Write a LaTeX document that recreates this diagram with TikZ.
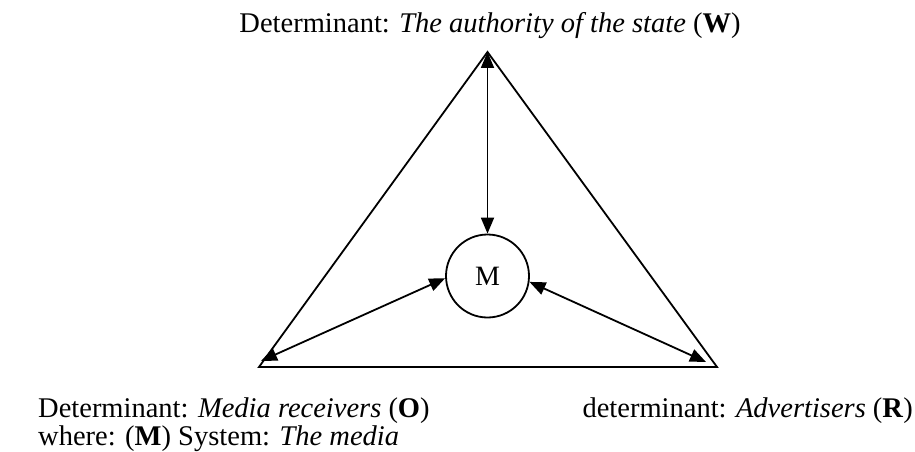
\documentclass[tikz,border=0pt]{standalone}
\usepackage{fontspec}
\setmainfont{Liberation Serif}
\usetikzlibrary{arrows.meta}
\begin{document}
\begin{tikzpicture}[x=1pt,y=-1pt,
  lbl/.style={inner sep=0pt, font=\fontsize{28.5}{30}\selectfont},
  conn/.style={line width=1.8pt, {Triangle[length=16pt,width=13pt]}-{Triangle[length=16pt,width=13pt]}},
  edge/.style={line width=1.8pt}]
\useasboundingbox (0,0) rectangle (915,452);
\coordinate (W) at (487.5,52);
\coordinate (O) at (259,367);
\coordinate (R) at (717,367);
\node[circle, draw, line width=1.8pt, minimum size=83pt, inner sep=0pt, font=\fontsize{28}{30}\selectfont] (M) at (487.5,276) {M};
\draw[edge, line join=miter] (W) -- (O) -- (R) -- cycle;
\coordinate (Oa) at (261,361);
\coordinate (Ra) at (706,362);
\draw[conn] (W) -- (M.north);
\draw[conn] (Oa) -- (M.183);
\draw[conn] (Ra) -- (M.-8);
\node[lbl, anchor=base] (tW) at (490,33) {Determinant: \textit{The authority of the state} (\textbf{W})};
\node[lbl, anchor=base west] (tO) at (38,417) {Determinant: \textit{Media receivers} (\textbf{O})};
\node[lbl, anchor=base east] (tR) at (913,417) {determinant: \textit{Advertisers} (\textbf{R})};
\node[lbl, anchor=base west] (tM) at (38,445) {where: (\textbf{M}) System: \textit{The media}};
\end{tikzpicture}
\end{document}
